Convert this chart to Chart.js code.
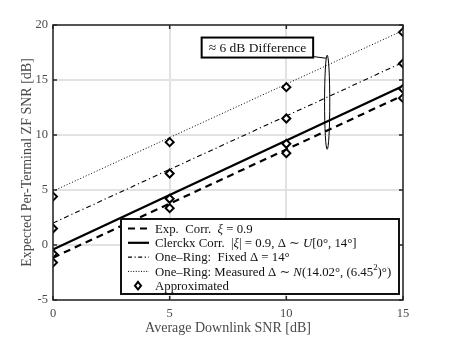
<!DOCTYPE html>
<html>
<head>
<meta charset="utf-8">
<script src="https://cdn.jsdelivr.net/npm/chart.js@4/dist/chart.umd.min.js"></script>
<style>
  html, body { margin: 0; padding: 0; background: #fff; }
</style>
</head>
<body>
<canvas id="snrChart" width="452" height="338"></canvas>
<script>
// line end points (x = average downlink SNR)
const lineSnr = [0, 15];
const expCorr = [-1.15, 13.6];
const clerckx = [-0.4, 14.45];
const oneRingFixed = [2.0, 16.6];
const oneRingMeasured = [4.9, 19.5];

// approximated values (diamonds)
const approxSnr = [0, 5, 10, 15];
const approxExp = [-1.6, 3.35, 8.35, 13.35];
const approxClerckx = [-0.8, 4.2, 9.2, 14.2];
const approxFixed = [1.5, 6.5, 11.5, 16.5];
const approxMeasured = [4.4, 9.35, 14.35, 19.35];

const xTicks = [0, 5, 10, 15];
const yTicks = [-5, 0, 5, 10, 15, 20];

const SERIF = "'Liberation Serif', 'DejaVu Serif', serif";
const textGray = "#4a4a4a";

function pts(xs, ys) {
  return xs.map((x, i) => ({ x: x, y: ys[i] }));
}

const approxPoints = []
  .concat(pts(approxSnr, approxExp))
  .concat(pts(approxSnr, approxClerckx))
  .concat(pts(approxSnr, approxFixed))
  .concat(pts(approxSnr, approxMeasured));

// legend entries: text pieces, [text, style]  style: 0 normal, 1 italic, 2 superscript
const legendItems = [
  { dash: [7, 5], width: 2.2, parts: [["Exp.  Corr.  ", 0], ["ξ", 1], [" = 0.9", 0]] },
  { dash: [], width: 2.2, parts: [["Clerckx Corr.  |", 0], ["ξ", 1], ["| = 0.9, Δ ∼ ", 0], ["U", 1], ["[0°, 14°]", 0]] },
  { dash: [4, 2.5, 1.2, 2.5], width: 1.1, parts: [["One–Ring:  Fixed Δ = 14°", 0]] },
  { dash: [1, 1.6], width: 1, parts: [["One–Ring: Measured Δ ∼ ", 0], ["N", 1], ["(14.02°, (6.45", 0], ["2", 2], [")°)", 0]] },
  { marker: true, parts: [["Approximated", 0]] }
];

// annotation (data coordinates)
const ellipseX = 11.75;
const ellipseTop = 17.25;
const ellipseBottom = 8.7;
const noteX = 8.76;
const noteY = 17.95;
const noteText = "≈ 6 dB Difference";

function drawDiamond(ctx, x, y, r) {
  ctx.save();
  ctx.beginPath();
  ctx.moveTo(x, y - r);
  ctx.lineTo(x + r * 0.8, y);
  ctx.lineTo(x, y + r);
  ctx.lineTo(x - r * 0.8, y);
  ctx.closePath();
  ctx.fillStyle = "#fff";
  ctx.fill();
  ctx.lineWidth = 2;
  ctx.strokeStyle = "#000";
  ctx.stroke();
  ctx.restore();
}

function drawRich(ctx, parts, x, y, size) {
  let cx = x;
  parts.forEach(p => {
    const txt = p[0], st = p[1];
    if (st === 2) {
      ctx.font = (size * 0.7) + "px " + SERIF;
      ctx.fillText(txt, cx, y - size * 0.35);
    } else {
      ctx.font = (st === 1 ? "italic " : "") + size + "px " + SERIF;
      ctx.fillText(txt, cx, y);
    }
    cx += ctx.measureText(txt).width;
  });
}

const decorations = {
  id: "decorations",
  beforeDatasetsDraw(chart) {
    // inward tick marks
    const { ctx, chartArea: a, scales: { x, y } } = chart;
    ctx.save();
    ctx.strokeStyle = "#262626";
    ctx.lineWidth = 1.5;
    xTicks.forEach(v => {
      const px = x.getPixelForValue(v);
      ctx.beginPath();
      ctx.moveTo(px, a.bottom); ctx.lineTo(px, a.bottom - 4);
      ctx.moveTo(px, a.top); ctx.lineTo(px, a.top + 4);
      ctx.stroke();
    });
    yTicks.forEach(v => {
      const py = y.getPixelForValue(v);
      ctx.beginPath();
      ctx.moveTo(a.left, py); ctx.lineTo(a.left + 4, py);
      ctx.moveTo(a.right, py); ctx.lineTo(a.right - 4, py);
      ctx.stroke();
    });
    ctx.restore();
  },
  afterDraw(chart) {
    const { ctx, chartArea: a, scales: { x, y } } = chart;
    ctx.save();

    // annotation: ellipse + text box
    const ex = x.getPixelForValue(ellipseX);
    const et = y.getPixelForValue(ellipseTop);
    const eb = y.getPixelForValue(ellipseBottom);
    ctx.strokeStyle = "#000";
    ctx.lineWidth = 1;
    ctx.beginPath();
    ctx.ellipse(ex, (et + eb) / 2, 2.6, (eb - et) / 2, 0, 0, Math.PI * 2);
    ctx.stroke();

    ctx.font = "13.5px " + SERIF;
    const tw = ctx.measureText(noteText).width;
    const bx = x.getPixelForValue(noteX);
    const by = y.getPixelForValue(noteY);
    const bw = tw + 14, bh = 20;
    ctx.beginPath();
    ctx.moveTo(bx + bw / 2, by + bh / 2 - 1);
    ctx.lineTo(ex - 1, et + 3);
    ctx.stroke();
    ctx.fillStyle = "#fff";
    ctx.fillRect(bx - bw / 2, by - bh / 2, bw, bh);
    ctx.lineWidth = 2;
    ctx.strokeRect(bx - bw / 2, by - bh / 2, bw, bh);
    ctx.fillStyle = "#111";
    ctx.textBaseline = "middle";
    ctx.textAlign = "center";
    ctx.fillText(noteText, bx, by + 1);

    // axes box
    ctx.lineWidth = 1.5;
    ctx.strokeStyle = "#262626";
    ctx.strokeRect(a.left, a.top, a.right - a.left, a.bottom - a.top);

    // legend box
    const lx = 121, ly = 219, lw = 278, lh = 75;
    ctx.fillStyle = "#fff";
    ctx.fillRect(lx, ly, lw, lh);
    ctx.lineWidth = 2;
    ctx.strokeStyle = "#111";
    ctx.strokeRect(lx, ly, lw, lh);
    ctx.textAlign = "left";
    ctx.textBaseline = "middle";
    legendItems.forEach((it, i) => {
      const rowY = ly + 9.5 + i * 14.3;
      if (it.marker) {
        drawDiamond(ctx, lx + 17, rowY, 3.8);
      } else {
        ctx.save();
        ctx.strokeStyle = "#000";
        ctx.lineWidth = it.width;
        ctx.setLineDash(it.dash);
        ctx.beginPath();
        ctx.moveTo(lx + 7, rowY);
        ctx.lineTo(lx + 28, rowY);
        ctx.stroke();
        ctx.restore();
      }
      ctx.fillStyle = "#111";
      drawRich(ctx, it.parts, lx + 34, rowY + 1, 12.8);
    });
    ctx.restore();
  }
};

new Chart(document.getElementById("snrChart"), {
  type: "scatter",
  data: {
    datasets: [
      {
        label: "Approximated",
        data: approxPoints,
        showLine: false,
        pointStyle: "rectRot",
        pointRadius: 4,
        pointBorderWidth: 2,
        pointBorderColor: "#000",
        pointBackgroundColor: "#fff"
      },
      {
        label: "Exp. Corr.",
        data: pts(lineSnr, expCorr),
        showLine: true, pointRadius: 0,
        borderColor: "#000", borderWidth: 2.2, borderDash: [7, 5]
      },
      {
        label: "Clerckx Corr.",
        data: pts(lineSnr, clerckx),
        showLine: true, pointRadius: 0,
        borderColor: "#000", borderWidth: 2.2
      },
      {
        label: "One-Ring: Fixed",
        data: pts(lineSnr, oneRingFixed),
        showLine: true, pointRadius: 0,
        borderColor: "#000", borderWidth: 1.1, borderDash: [5, 3, 1.2, 3]
      },
      {
        label: "One-Ring: Measured",
        data: pts(lineSnr, oneRingMeasured),
        showLine: true, pointRadius: 0,
        borderColor: "#000", borderWidth: 1, borderDash: [1, 2]
      }
    ]
  },
  options: {
    responsive: false,
    animation: false,
    devicePixelRatio: 1,
    layout: { padding: { top: 25, right: 49, left: 0, bottom: 0 } },
    plugins: { legend: { display: false }, tooltip: { enabled: false } },
    scales: {
      x: {
        type: "linear", min: 0, max: 15,
        afterBuildTicks: s => { s.ticks = xTicks.map(v => ({ value: v })); },
        afterFit: s => { s.height = 38; },
        ticks: { color: textGray, font: { family: SERIF, size: 12.5 }, padding: 6 },
        grid: { color: "#e2e2e2", lineWidth: 2, drawTicks: false },
        border: { display: false },
        title: {
          display: true, text: "Average Downlink SNR [dB]", color: textGray,
          font: { family: SERIF, size: 14 }, padding: { top: 0, bottom: 1 }
        }
      },
      y: {
        type: "linear", min: -5, max: 20,
        afterBuildTicks: s => { s.ticks = yTicks.map(v => ({ value: v })); },
        afterFit: s => { s.width = 53; },
        ticks: { color: textGray, font: { family: SERIF, size: 12.5 }, padding: 5 },
        grid: { color: "#e2e2e2", lineWidth: 2, drawTicks: false },
        border: { display: false },
        title: {
          display: true, text: "Expected Per-Terminal ZF SNR [dB]", color: textGray,
          font: { family: SERIF, size: 14 }, padding: { top: 19, bottom: 0 }
        }
      }
    }
  },
  plugins: [decorations]
});
</script>
</body>
</html>
